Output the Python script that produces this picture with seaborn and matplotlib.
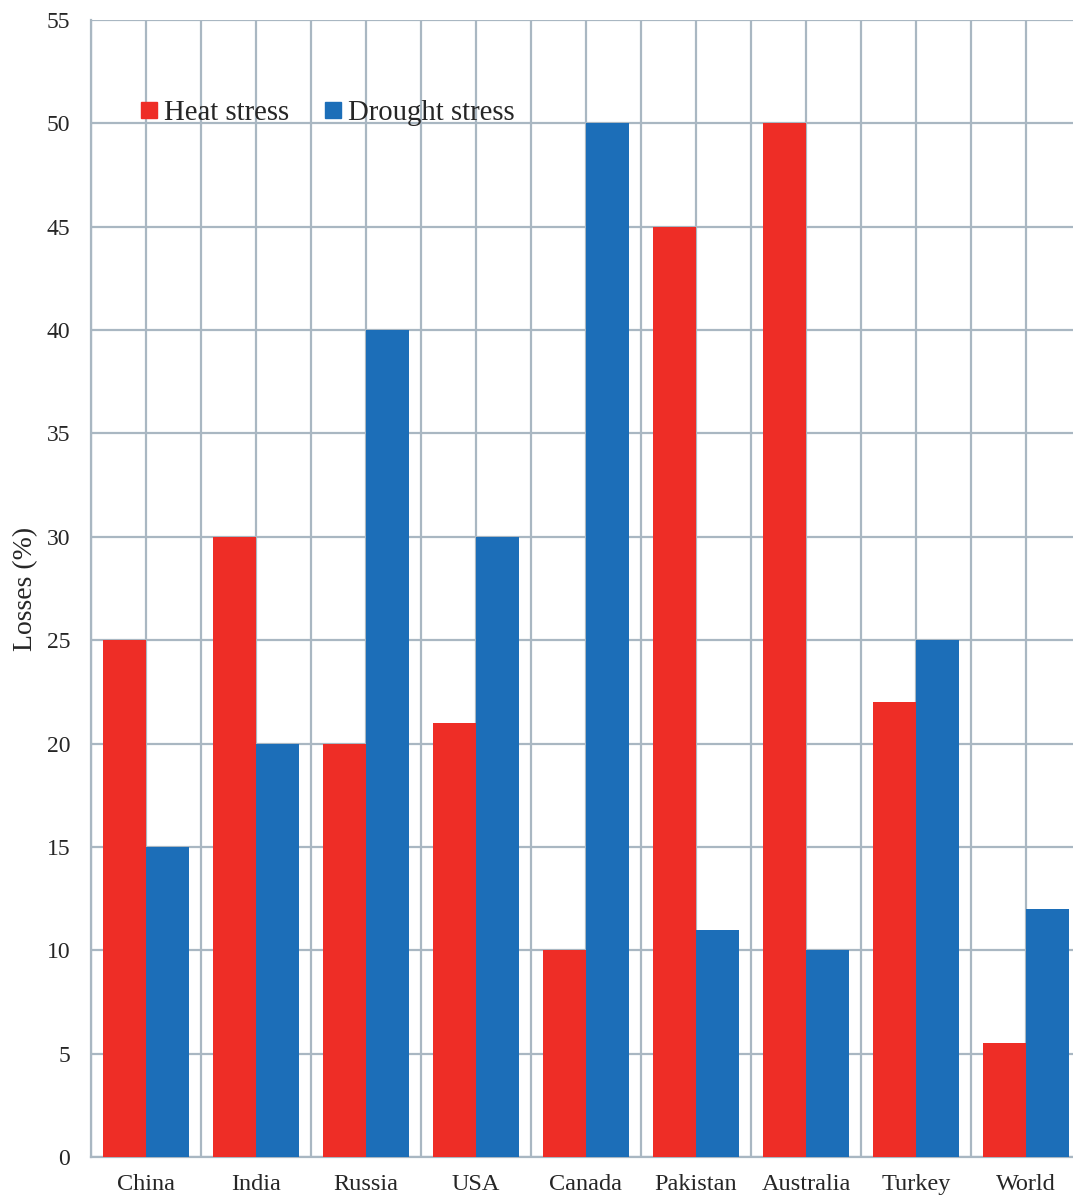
import matplotlib
matplotlib.use("Agg")
import matplotlib.pyplot as plt
from matplotlib.lines import Line2D
import seaborn as sns
import pandas as pd
import numpy as np

countries = ["China", "India", "Russia", "USA", "Canada", "Pakistan", "Australia", "Turkey", "World"]
heat_stress = [25, 30, 20, 21, 10, 45, 50, 22, 5.5]
drought_stress = [15, 20, 40, 30, 50, 11, 10, 25, 12]
series_names = ["Heat stress", "Drought stress"]
y_ticks = [0, 5, 10, 15, 20, 25, 30, 35, 40, 45, 50, 55]

df = pd.DataFrame({
    "Country": countries * 2,
    "Stress": [series_names[0]] * len(countries) + [series_names[1]] * len(countries),
    "Losses": heat_stress + drought_stress,
})

sns.set_theme(style="white")
plt.rcParams["font.family"] = ["Liberation Serif", "DejaVu Serif"]

RED = "#EE2D26"
BLUE = "#1C6EB8"
GRID = "#A9B7C2"

W, H = 1073, 1198
fig = plt.figure(figsize=(W / 100, H / 100), dpi=100)
# axes extends slightly past the right edge of the figure
ax = fig.add_axes([91 / W, 1 - 1157 / H, 990 / W, (1157 - 20) / H])

sns.barplot(data=df, x="Country", y="Losses", hue="Stress", order=countries,
            hue_order=series_names, palette=[RED, BLUE], width=0.78,
            saturation=1, ax=ax, legend=False, linewidth=0, zorder=3)

n = len(countries)
ax.set_xlim(-0.5, n - 0.5)
ax.set_ylim(0, 55)
ax.set_yticks(y_ticks)
ax.set_xticks(np.arange(n))
ax.set_xticklabels(countries, fontsize=17.5)
ax.set_xticks(np.arange(n + 1) - 0.5, minor=True)
ax.tick_params(axis="x", which="major", length=0, pad=12)
ax.tick_params(axis="x", which="minor", length=7, color=GRID, width=1.6, direction="out")
ax.tick_params(axis="y", length=7, color=GRID, width=1.6, direction="out", labelsize=17, pad=8)

ax.grid(True, which="both", axis="x", color=GRID, linewidth=1.6, zorder=0)
ax.grid(True, which="major", axis="y", color=GRID, linewidth=1.6, zorder=0)
ax.set_axisbelow(True)

for side in ["top", "right"]:
    ax.spines[side].set_visible(False)
for side in ["left", "bottom"]:
    ax.spines[side].set_color(GRID)
    ax.spines[side].set_linewidth(1.6)

ax.set_xlabel("")
ax.set_ylabel("Losses (%)", fontsize=20, labelpad=6)

handles = [Line2D([], [], marker="s", linestyle="none", markersize=11, color=c) for c in (RED, BLUE)]
ax.legend(handles, series_names, loc="center left", bbox_to_anchor=(0.037, 0.918),
          ncol=2, frameon=False, fontsize=20.7, handlelength=0.7, handletextpad=0.15,
          columnspacing=1.2, borderaxespad=0)

fig.savefig("out.png", dpi=100)
